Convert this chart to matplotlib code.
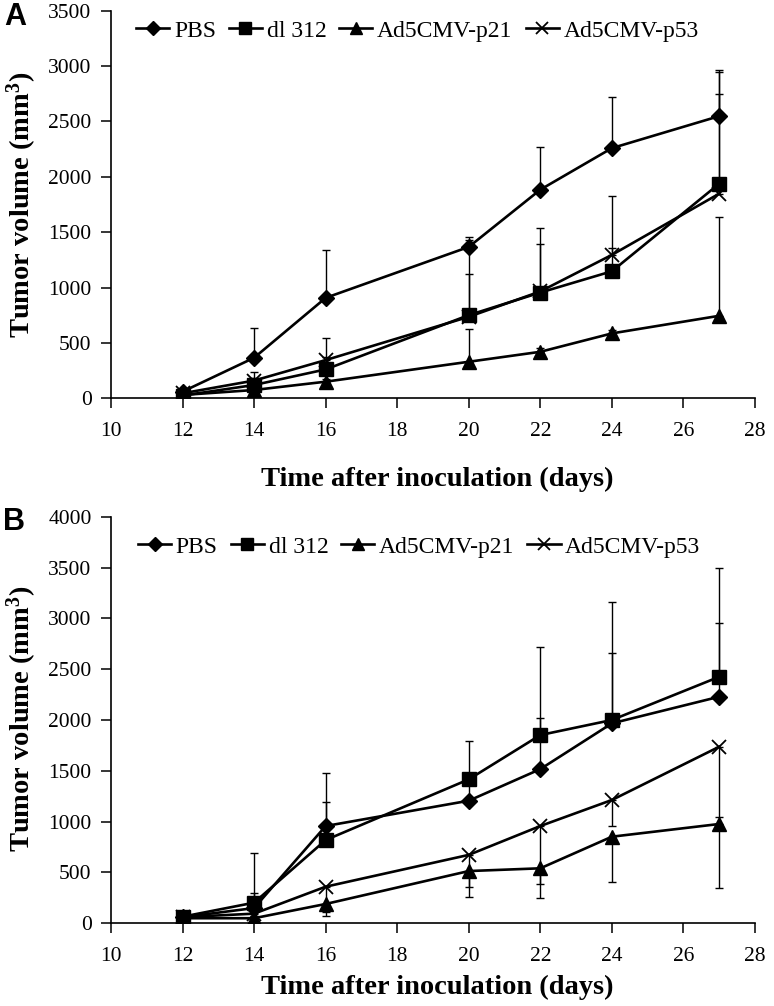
import matplotlib
matplotlib.use("Agg")
import matplotlib.pyplot as plt
from matplotlib.lines import Line2D

plt.rcParams['font.family'] = ['Liberation Serif', 'DejaVu Serif']
plt.rcParams['mathtext.fontset'] = 'custom'
plt.rcParams['mathtext.rm'] = 'Liberation Serif:bold'
plt.rcParams['mathtext.it'] = 'Liberation Serif:bold'
plt.rcParams['mathtext.bf'] = 'Liberation Serif:bold'

days = [12, 14, 16, 20, 22, 24, 27]
series_names = ["PBS", "dl 312", "Ad5CMV-p21", "Ad5CMV-p53"]
markers = ['D', 's', '^', 'x']
xticks = [10, 12, 14, 16, 18, 20, 22, 24, 26, 28]

# Panel A values (mean) and upper error bars
pbs_A = [60, 366, 907, 1367, 1884, 2259, 2548]
dl312_A = [25, 120, 261, 751, 955, 1147, 1938]
p21_A = [30, 75, 150, 330, 420, 586, 745]
p53_A = [45, 160, 345, 736, 965, 1295, 1848]
pbs_A_up = [15, 271, 430, 90, 384, 460, 420]
dl312_A_up = [10, 120, 285, 367, 583, 676, 1006]
p21_A_up = [10, 10, 20, 292, 30, 30, 892]
p53_A_up = [10, 20, 30, 694, 432, 60, 901]

# Panel B values (mean); PBS/dl312 upper bars, p21/p53 lower bars
pbs_B = [60, 150, 957, 1206, 1517, 1967, 2229]
dl312_B = [65, 203, 819, 1416, 1852, 2000, 2425]
p21_B = [50, 50, 190, 514, 541, 852, 977]
p53_B = [60, 95, 360, 673, 957, 1213, 1737]
pbs_B_up = [10, 145, 233, 150, 499, 688, 721]
dl312_B_up = [10, 491, 662, 380, 862, 1163, 1072]
p21_B_down = [10, 10, 76, 160, 158, 443, 633]
p53_B_down = [10, 20, 285, 411, 705, 253, 695]

W, H = 774, 1006
fig = plt.figure(figsize=(W / 100, H / 100), dpi=100)

def make_axes(top_px, bottom_px):
    left, right = 111, 755
    return fig.add_axes([left / W, 1 - bottom_px / H, (right - left) / W, (bottom_px - top_px) / H])

axA = make_axes(10.7, 398.3)
axB = make_axes(516.7, 923.3)

msizes = {'D': 8.5, 's': 9.5, '^': 9.5, 'x': 10}

def draw(ax, vals, errs, ymax, yticks, leg_x, leg_y):
    zeros = [0] * len(days)
    for v, (lo, hi), m in zip(vals, errs, markers):
        ax.errorbar(days, v, yerr=[lo if lo else zeros, hi if hi else zeros],
                    fmt='none', ecolor='black', elinewidth=1.0, capsize=3.2,
                    capthick=1.0, zorder=1)
        ax.plot(days, v, color='black', lw=1.9, marker=m, ms=msizes[m],
                mfc='black', mec='black', mew=1.3 if m == 'x' else 1.0, zorder=3)
    ax.set_xlim(10, 28)
    ax.set_ylim(0, ymax)
    ax.set_xticks(xticks)
    ax.set_yticks(yticks)
    ax.tick_params(direction='out', length=7, width=1.1, labelsize=15.5)
    ax.tick_params(axis='x', pad=10)
    ax.tick_params(axis='y', pad=7)
    for s in ['top', 'right']:
        ax.spines[s].set_visible(False)
    for s in ['left', 'bottom']:
        ax.spines[s].set_linewidth(1.2)
    handles = [Line2D([0], [0], color='black', lw=1.9, marker=m, ms=msizes[m] * 0.85,
                      mfc='black', mec='black', mew=1.3 if m == 'x' else 1.0)
               for m in markers]
    ax.legend(handles, series_names, ncol=4, frameon=False, fontsize=17,
              loc='center left', bbox_to_anchor=(leg_x, leg_y), borderpad=0,
              borderaxespad=0, handlelength=1.4, handletextpad=0.2,
              columnspacing=0.55)

draw(axA, [pbs_A, dl312_A, p21_A, p53_A],
     [(None, pbs_A_up), (None, dl312_A_up), (None, p21_A_up), (None, p53_A_up)],
     3500, list(range(0, 3501, 500)), 0.039, 0.948)
draw(axB, [pbs_B, dl312_B, p21_B, p53_B],
     [(None, pbs_B_up), (None, dl312_B_up), (p21_B_down, None), (p53_B_down, None)],
     4000, list(range(0, 4001, 500)), 0.042, 0.926)

ylab = "Tumor volume (mm$^{3}$)"
xlab = "Time after inoculation (days)"
for yc in (205, 719):
    fig.text(22 / W, 1 - yc / H, ylab, rotation=90, ha='center', va='center',
             fontsize=20.5, fontweight='bold')
for yc in (479, 987):
    fig.text(437 / W, 1 - yc / H, xlab, ha='center', va='center',
             fontsize=20.5, fontweight='bold')

fig.text(15 / W, 1 - 17 / H, "A", ha='center', va='center', fontsize=22,
         fontweight='bold', family=['Liberation Sans', 'DejaVu Sans'])
fig.text(14 / W, 1 - 522 / H, "B", ha='center', va='center', fontsize=22,
         fontweight='bold', family=['Liberation Sans', 'DejaVu Sans'])

fig.savefig("out.png", dpi=100)
